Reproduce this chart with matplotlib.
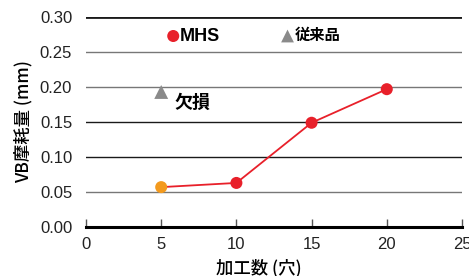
import numpy as np
from matplotlib import pyplot as plt

plt.rcParams['font.family'] = ['Liberation Sans', 'Noto Sans CJK JP', 'DejaVu Sans']

holes = [5, 10, 15, 20]
mhs_wear = [0.057, 0.063, 0.149, 0.197]
conv_holes = [5]
conv_wear = [0.193]
yticks = [0.00, 0.05, 0.10, 0.15, 0.20, 0.25, 0.30]
xticks = [0, 5, 10, 15, 20, 25]

red = '#e8202a'
orange = '#f39a1e'
gray = '#8a8a8a'

fig = plt.figure(figsize=(4.69, 2.76), dpi=100)
ax = fig.add_axes([0.1834, 0.1775, 0.8016, 0.7605])

for y in yticks[1:]:
    lw = 2.0 if y == 0.30 else 1.0
    c = '#1a1a1a' if y in (0.30, 0.15, 0.10) else '#777777'
    ax.axhline(y, color=c, lw=lw, zorder=1)

ax.plot(holes, mhs_wear, color=red, lw=1.3, zorder=2)
ax.scatter(holes[1:], mhs_wear[1:], s=75, color=red, zorder=3, edgecolors='none')
ax.scatter(holes[:1], mhs_wear[:1], s=75, color=orange, zorder=3, edgecolors='none')
ax.scatter(conv_holes, conv_wear, s=100, marker='^', color=gray, zorder=3, edgecolors='none')
ax.text(5.9, 0.178, '欠損', fontsize=13, fontweight='bold', family='Noto Sans CJK JP',
        va='center', ha='left')

# legend
ax.scatter([5.8], [0.273], s=75, color=red, zorder=3, edgecolors='none', clip_on=False)
ax.text(6.2, 0.272, 'MHS', fontsize=13, fontweight='bold', va='center', ha='left')
ax.scatter([13.4], [0.273], s=85, marker='^', color=gray, zorder=3, edgecolors='none')
ax.text(13.85, 0.274, '従来品', fontsize=11, fontweight='bold', family='Noto Sans CJK JP',
        va='center', ha='left')

ax.set_xlim(0, 25)
ax.set_ylim(0, 0.30)
ax.set_xticks(xticks)
ax.set_yticks(yticks)
ax.set_yticklabels([f'{v:.2f}' for v in yticks])
for s in ['top', 'right', 'left']:
    ax.spines[s].set_visible(False)
ax.spines['bottom'].set_linewidth(2.2)
ax.tick_params(axis='x', direction='in', length=6, width=1, color='#555555',
               labelsize=12, pad=7, labelcolor='#222222')
ax.tick_params(axis='y', length=0, labelsize=12, pad=10, labelcolor='#222222')
ax.set_xlabel('加工数 (穴)', fontsize=12.5, fontweight='medium', labelpad=5,
              family=['Noto Sans CJK JP'])
ax.xaxis.label.set_x(0.46)
ax.set_ylabel('VB摩耗量 (mm)', fontsize=12.5, fontweight='medium', labelpad=5,
              family=['Noto Sans CJK JP'])

fig.savefig('out.png', dpi=100)
